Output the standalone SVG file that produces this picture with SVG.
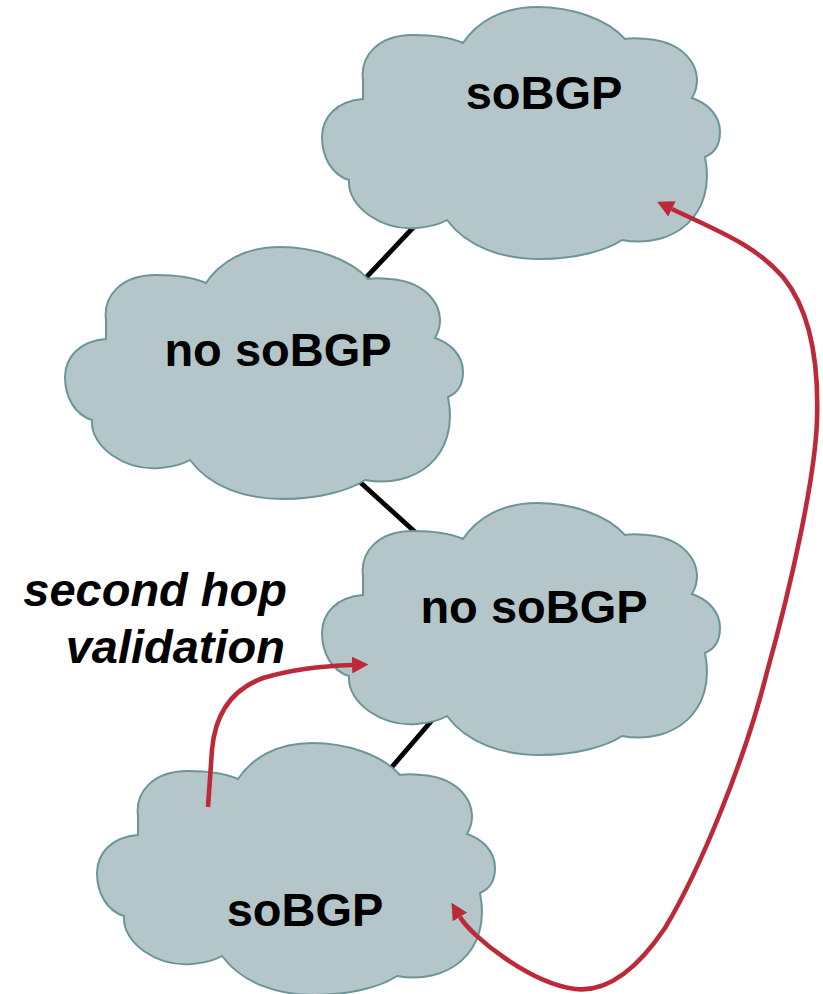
<svg xmlns="http://www.w3.org/2000/svg" xmlns:xlink="http://www.w3.org/1999/xlink" width="823" height="994" viewBox="0 0 823 994">
<style>
.cloud{fill:#b4c6c9;stroke:#6d9598;stroke-width:2}
.lbl{font-family:"Liberation Sans",Arial,Helvetica,sans-serif;font-weight:bold;font-size:47px;fill:#000;text-anchor:middle}
.note{font-family:"Liberation Sans",Arial,Helvetica,sans-serif;font-weight:bold;font-style:italic;font-size:47px;fill:#000;text-anchor:end}
.link{stroke:#000;stroke-width:4.8;fill:none}
.arrow{stroke:#bc2a3a;stroke-width:4.6;fill:none;stroke-linejoin:round}
</style>
<defs>
<path id="cloudShape" d="M41,92 C15,94 0,110 0,130 C0,150 10,168 27,173 C25,200 60,224 95,221 C108,220 118,217 125,213 C145,240 180,252 218,252 C255,252 285,243 300,233 C350,242 395,210 383,150 C395,145 398,135 398,125 C398,108 385,96 370,91 C385,65 365,35 325,32 C315,31 308,31 303,32 C285,12 250,0 215,0 C180,0 155,15 141,36 C125,29 108,28 91,28 C55,28 38,50 41,73 C41,80 41,86 41,92 Z"/>
<marker id="head" markerUnits="userSpaceOnUse" markerWidth="17" markerHeight="17" refX="0" refY="8.5" orient="auto-start-reverse" viewBox="0 0 17 17">
<path d="M0,0 L16.5,8.5 L0,17 Z" fill="#bc2a3a"/>
</marker>
</defs>
<g id="links">
<line class="link" x1="425" y1="215" x2="360" y2="284"/>
<line class="link" x1="350" y1="473" x2="425" y2="541"/>
<line class="link" x1="440" y1="711" x2="385" y2="775"/>
</g>
<g id="cloud1">
<use xlink:href="#cloudShape" class="cloud" transform="translate(322,7)"/>
<text class="lbl" x="544" y="109">soBGP</text>
</g>
<g id="cloud2">
<use xlink:href="#cloudShape" class="cloud" transform="translate(65,247)"/>
<text class="lbl" x="278" y="366">no soBGP</text>
</g>
<g id="cloud3">
<use xlink:href="#cloudShape" class="cloud" transform="translate(322,503)"/>
<text class="lbl" x="534" y="623">no soBGP</text>
</g>
<g id="cloud4">
<use xlink:href="#cloudShape" class="cloud" transform="translate(97,743)"/>
<text class="lbl" x="305" y="926">soBGP</text>
</g>
<g id="note">
<text class="note" x="287" y="606">second hop</text>
<text class="note" x="285" y="663">validation</text>
</g>
<g id="arrows">
<path class="arrow" marker-end="url(#head)" d="M208,807 L212,750 C215,715 230,690 263,678 C290,670 320,666 352,665"/>
<path class="arrow" marker-start="url(#head)" marker-end="url(#head)" d="M460,917 C472,937 530,983 575,989 C610,993 640,965 665,928 C700,870 745,760 767,672 C790,590 815,480 817,420 C819,360 810,310 783,277 C755,245 720,232 672,209"/>
</g>
</svg>
